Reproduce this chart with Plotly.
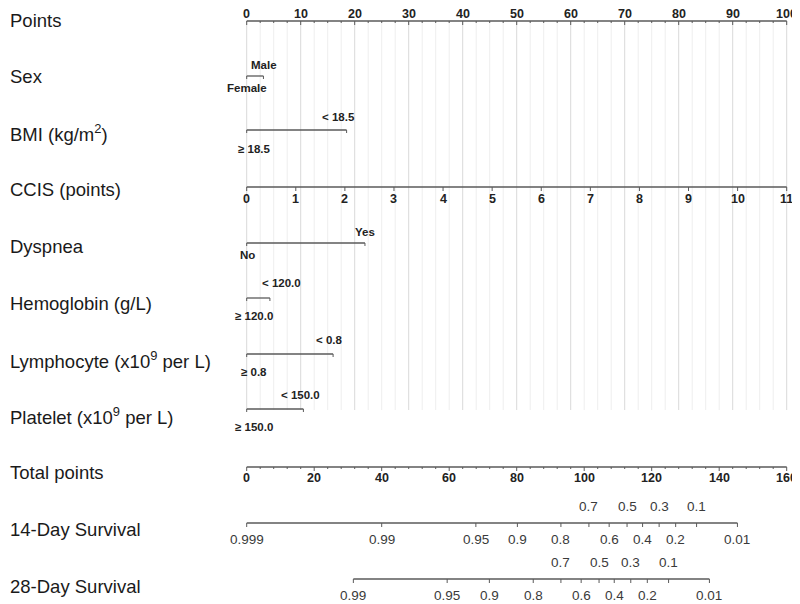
import plotly.graph_objects as go

# --- DATA ---
ROW_NAMES = ["Points", "Sex", "BMI (kg/m<sup>2</sup>)", "CCIS (points)", "Dyspnea",
             "Hemoglobin (g/L)", "Lymphocyte (x10<sup>9</sup> per L)",
             "Platelet (x10<sup>9</sup> per L)", "Total points",
             "14-Day Survival", "28-Day Survival"]

POINTS_TICKS = [0, 10, 20, 30, 40, 50, 60, 70, 80, 90, 100]
CCIS_TICKS = [0, 1, 2, 3, 4, 5, 6, 7, 8, 9, 10, 11]
TOTAL_TICKS = [0, 20, 40, 60, 80, 100, 120, 140, 160]

# binary predictors: reference level (0 points) and risk level (points)
CAT_REF = ["Female", "≥ 18.5", "No", "≥ 120.0", "≥ 0.8", "≥ 150.0"]
CAT_RISK = ["Male", "< 18.5", "Yes", "< 120.0", "< 0.8", "< 150.0"]
CAT_POINTS = [3.1, 18.5, 21.9, 4.3, 16.0, 10.5]

# survival scales: probability labels and their total points
SURV14_LABELS = ["0.999", "0.99", "0.95", "0.9", "0.8", "0.7", "0.6", "0.5", "0.4", "0.3", "0.2", "0.1", "0.01"]
SURV14_TOTAL = [0, 40.0, 67.9, 80.2, 93.1, 101.4, 107.4, 112.7, 117.3, 122.2, 127.1, 133.3, 145.4]
SURV28_LABELS = ["0.99", "0.95", "0.9", "0.8", "0.7", "0.6", "0.5", "0.4", "0.3", "0.2", "0.1", "0.01"]
SURV28_TOTAL = [31.6, 59.4, 71.9, 84.9, 93.1, 99.1, 104.4, 108.9, 113.8, 118.7, 125.0, 137.1]
LABELS_ABOVE = ["0.7", "0.5", "0.3", "0.1"]

POINTS_MAX = 100
CCIS_MAX = 11
TOTAL_MAX = 160

# --- LAYOUT (rows in window pixels; page body has an 8px margin) ---
PAGE_OFFSET = 8
LINE_Y = [21, 76, 130, 187, 243, 298, 354, 409, 467, 523, 579]
NAME_Y = [20 + 56.6 * i for i in range(11)]
CAT_ROWS = [1, 2, 4, 5, 6, 7]
ABOVE_DY = [-11, -13, -11, -15, -14, -14]
BELOW_DY = [12, 19, 12, 18, 18, 18]
REF_SHIFT = [0, 7, 1, 7, 7, 7]
RISK_SHIFT = [1, -8, 0, 12, -4, -3]

FONT = "Liberation Sans, Arial, sans-serif"
AXIS_COLOR = "#5a5a5a"

fig = go.Figure()
annotations = []


def segs(x_pairs, y_pairs, color, width):
    xs, ys = [], []
    for (xa, xb), (ya, yb) in zip(x_pairs, y_pairs):
        xs += [xa, xb, None]
        ys += [ya, yb, None]
    fig.add_trace(go.Scatter(x=xs, y=ys, mode="lines", hoverinfo="skip",
                             line=dict(color=color, width=width), showlegend=False))


def text(x, y, s, size, bold=False, color="#222", xshift=0, xref="x", xanchor="center"):
    annotations.append(dict(x=x, y=y, xref=xref, yref="y", text=(f"<b>{s}</b>" if bold else s),
                            showarrow=False, xanchor=xanchor, yanchor="middle", xshift=xshift,
                            font=dict(family=FONT, size=size, color=color)))


def axis(ticks_pts, y, minor_pts=(), tick_len=4):
    segs([(min(ticks_pts), max(ticks_pts))], [(y, y)], AXIS_COLOR, 1.3)
    segs([(t, t) for t in ticks_pts], [(y, y + tick_len) for _ in ticks_pts], AXIS_COLOR, 1)
    if minor_pts:
        segs([(t, t) for t in minor_pts], [(y, y + 2) for _ in minor_pts], AXIS_COLOR, 1)


# gridlines
minor_grid = [i * 2.5 for i in range(41) if (i * 2.5) % 10 != 0]
segs([(g, g) for g in minor_grid], [(LINE_Y[0], 410) for _ in minor_grid], "#eeeeee", 1)
segs([(g, g) for g in POINTS_TICKS], [(LINE_Y[0], 410) for _ in POINTS_TICKS], "#d9d9d9", 1)

# Points axis
axis(POINTS_TICKS, LINE_Y[0], minor_grid)
for t in POINTS_TICKS:
    text(t, LINE_Y[0] - 7.5, str(t), 12.5, bold=True)

# CCIS axis
ccis_pts = [c * POINTS_MAX / CCIS_MAX for c in CCIS_TICKS]
axis(ccis_pts, LINE_Y[3])
for c, p in zip(CCIS_TICKS, ccis_pts):
    text(p, LINE_Y[3] + 12, str(c), 12.5, bold=True)

# binary predictors
for k, row in enumerate(CAT_ROWS):
    y = LINE_Y[row]
    p = CAT_POINTS[k]
    axis([0, p], y, tick_len=3)
    text(p, y + ABOVE_DY[k], CAT_RISK[k], 11.5, bold=True, xshift=RISK_SHIFT[k])
    text(0, y + BELOW_DY[k], CAT_REF[k], 11.5, bold=True, xshift=REF_SHIFT[k])

# Total points axis
tot_pts = [t * POINTS_MAX / TOTAL_MAX for t in TOTAL_TICKS]
tot_minor = [i * 4 * POINTS_MAX / TOTAL_MAX for i in range(41) if (i * 4) % 20 != 0]
axis(tot_pts, LINE_Y[8], tot_minor)
for t, p in zip(TOTAL_TICKS, tot_pts):
    text(p, LINE_Y[8] + 11, str(t), 12.5, bold=True)

# survival axes
for labels, totals, row in [(SURV14_LABELS, SURV14_TOTAL, 9), (SURV28_LABELS, SURV28_TOTAL, 10)]:
    y = LINE_Y[row]
    pts = [t * POINTS_MAX / TOTAL_MAX for t in totals]
    axis(pts, y, tick_len=4)
    for lab, p in zip(labels, pts):
        if lab in LABELS_ABOVE:
            text(p, y - 17, lab, 13.5, color="#3a3a3a")
        else:
            text(p, y + 16, lab, 13.5, color="#3a3a3a")

# row names
for name, y in zip(ROW_NAMES, NAME_Y):
    text(0, y, name, 18.5, color="#1a1a1a", xref="paper", xanchor="left")

W, H = 800 - PAGE_OFFSET, 604 - PAGE_OFFSET
scale = 5.4
x0 = -(246.7 - PAGE_OFFSET) / scale
fig.update_layout(
    width=W, height=H,
    margin=dict(l=0, r=0, t=0, b=0),
    paper_bgcolor="white", plot_bgcolor="white",
    xaxis=dict(range=[x0, x0 + W / scale], visible=False, fixedrange=True),
    yaxis=dict(range=[604, PAGE_OFFSET], visible=False, fixedrange=True),
    annotations=annotations,
    showlegend=False,
)

fig.write_html("out.html")
